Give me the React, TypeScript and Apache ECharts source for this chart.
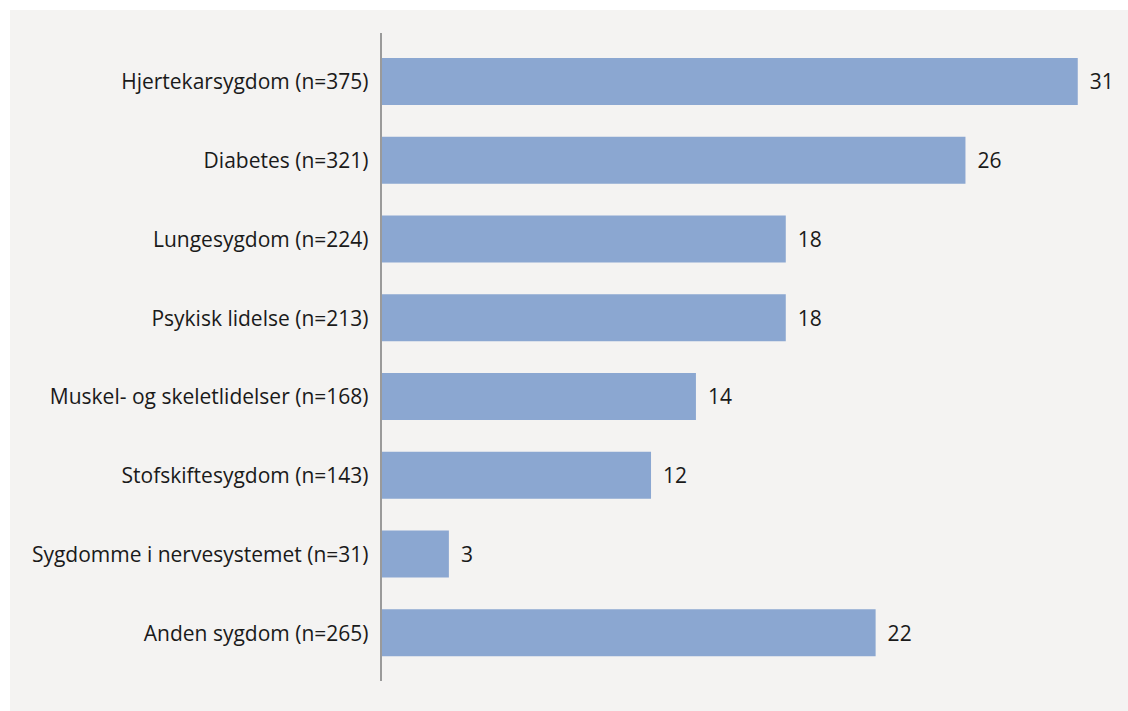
import React, { useEffect, useRef } from "react";
import * as echarts from "echarts";

const categories = [
  "Hjertekarsygdom (n=375)",
  "Diabetes (n=321)",
  "Lungesygdom (n=224)",
  "Psykisk lidelse (n=213)",
  "Muskel- og skeletlidelser (n=168)",
  "Stofskiftesygdom (n=143)",
  "Sygdomme i nervesystemet (n=31)",
  "Anden sygdom (n=265)",
];
const values = [31, 26, 18, 18, 14, 12, 3, 22];

const FONT = "'Open Sans', 'Noto Sans', sans-serif";

export default function App() {
  const ref = useRef<HTMLDivElement>(null);
  useEffect(() => {
    document.body.style.margin = "0";
    const chart = echarts.init(ref.current!, undefined, { renderer: "svg" });
    chart.setOption({
      animation: false,
      backgroundColor: "#ffffff",
      textStyle: { fontFamily: FONT },
      graphic: [
        {
          type: "rect",
          z: -10,
          shape: { x: 10, y: 10, width: 1118, height: 701 },
          style: { fill: "#f4f3f2" },
          silent: true,
        },
        {
          type: "line",
          z: 10,
          shape: { x1: 381, y1: 33, x2: 381, y2: 681 },
          style: { stroke: "#9a9a9a", lineWidth: 2 },
          silent: true,
        },
      ],
      grid: { left: 381.5, top: 42, height: 630, width: 32 * 22.46, containLabel: false },
      xAxis: {
        type: "value",
        min: 0,
        max: 32,
        show: false,
        splitLine: { show: false },
      },
      yAxis: {
        type: "category",
        data: categories,
        inverse: true,
        axisLine: { show: false },
        axisTick: { show: false },
        axisLabel: {
          color: "#1a1a1a",
          fontSize: 21,
          fontFamily: FONT,
          margin: 13,
        },
      },
      series: [
        {
          type: "bar",
          data: values,
          barWidth: 47,
          itemStyle: { color: "#8ba7d1" },
          label: {
            show: true,
            position: "right",
            distance: 12,
            color: "#1a1a1a",
            fontSize: 21,
            fontFamily: FONT,
          },
        },
      ],
    });
    return () => chart.dispose();
  }, []);
  return <div ref={ref} style={{ width: 1128, height: 711 }} />;
}
